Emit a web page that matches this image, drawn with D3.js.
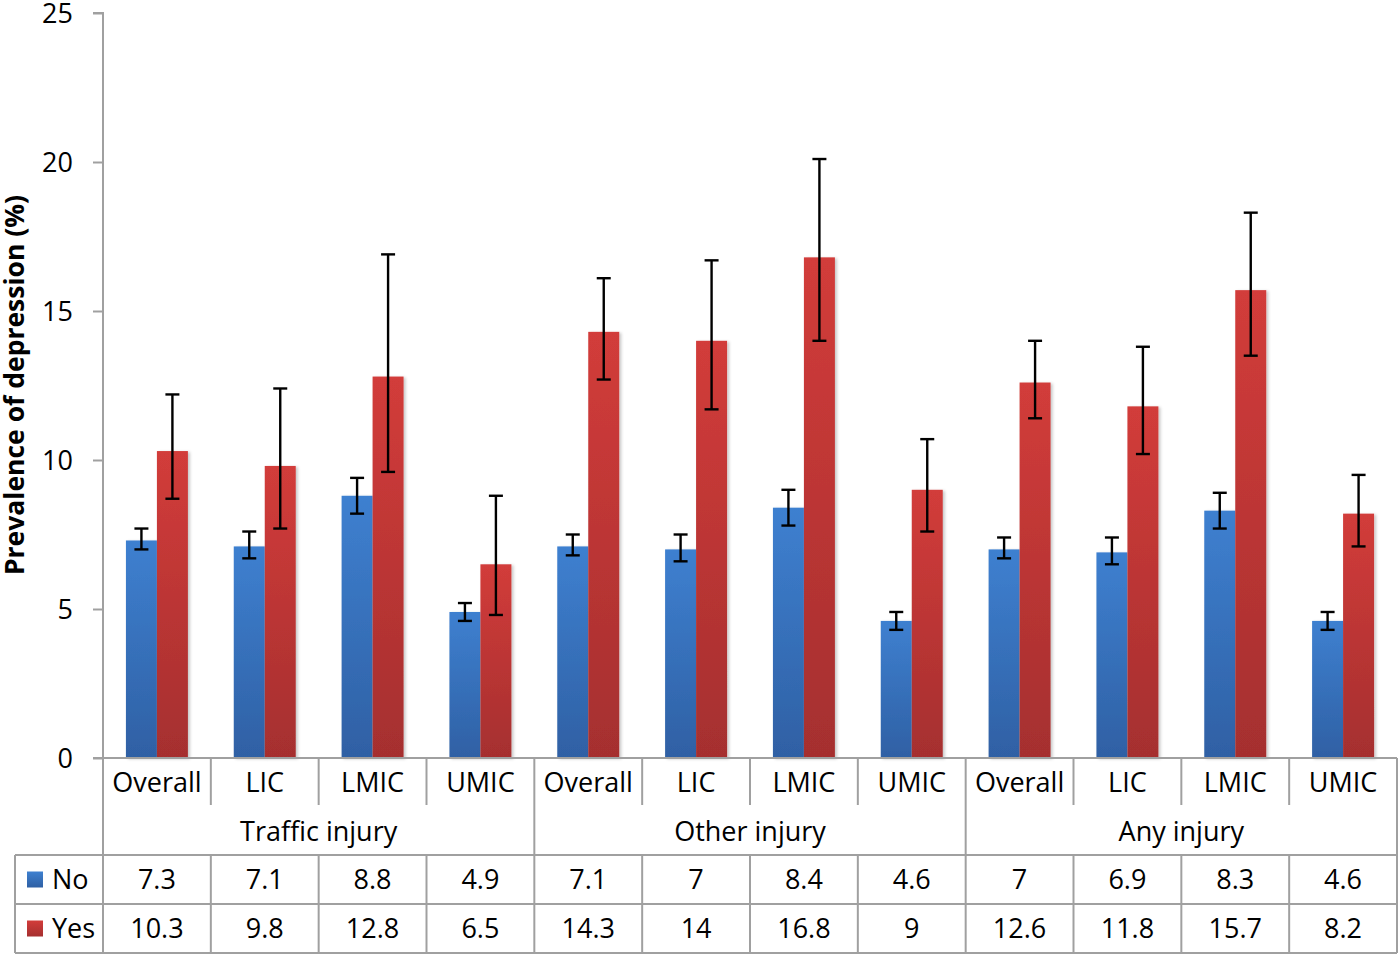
<!DOCTYPE html>
<html>
<head>
<meta charset="utf-8">
<script src="https://cdn.jsdelivr.net/npm/d3@7"></script>
<style>
  html, body { margin: 0; padding: 0; background: #fff; }
  svg { display: block; }
  text { font-family: "Open Sans", "DejaVu Sans", sans-serif; fill: #000; }
</style>
</head>
<body>
<svg id="chart" width="1400" height="957"></svg>
<script>
// ---------- data ----------
const subCategories = ["Overall", "LIC", "LMIC", "UMIC", "Overall", "LIC", "LMIC", "UMIC", "Overall", "LIC", "LMIC", "UMIC"];
const groups = ["Traffic injury", "Other injury", "Any injury"];
const seriesNames = ["No", "Yes"];
const noValues  = [7.3, 7.1, 8.8, 4.9, 7.1, 7, 8.4, 4.6, 7, 6.9, 8.3, 4.6];
const yesValues = [10.3, 9.8, 12.8, 6.5, 14.3, 14, 16.8, 9, 12.6, 11.8, 15.7, 8.2];
const noLow   = [7.0, 6.7, 8.2, 4.6, 6.8, 6.6, 7.8, 4.3, 6.7, 6.5, 7.7, 4.3];
const noHigh  = [7.7, 7.6, 9.4, 5.2, 7.5, 7.5, 9.0, 4.9, 7.4, 7.4, 8.9, 4.9];
const yesLow  = [8.7, 7.7, 9.6, 4.8, 12.7, 11.7, 14.0, 7.6, 11.4, 10.2, 13.5, 7.1];
const yesHigh = [12.2, 12.4, 16.9, 8.8, 16.1, 16.7, 20.1, 10.7, 14.0, 13.8, 18.3, 9.5];
const yTicks = [0, 5, 10, 15, 20, 25];
const yTitle = "Prevalence of depression (%)";

(function draw() {
// ---------- layout ----------
const svg = d3.select("#chart");
const pLeft = 103, pRight = 1397, pTop = 13, pBottom = 758;
const rowSub = 807, rowGroup = 855, rowNo = 904, rowYes = 953, tableLeft = 15;
const grid = "#a0a0a0";

const y = d3.scaleLinear().domain([0, 25]).range([pBottom, pTop]);
const x = d3.scaleBand().domain(d3.range(subCategories.length)).range([pLeft, pRight]).paddingInner(0).paddingOuter(0);
const xs = d3.scaleBand().domain(seriesNames).range([0, x.bandwidth()]).paddingInner(0).paddingOuter(0.74);

// gradients
const defs = svg.append("defs");
const gradBlue = defs.append("linearGradient").attr("id", "gBlue").attr("x1", 0).attr("y1", 0).attr("x2", 0).attr("y2", 1);
gradBlue.append("stop").attr("offset", "0%").attr("stop-color", "#3e80d0");
gradBlue.append("stop").attr("offset", "100%").attr("stop-color", "#2f60a4");
const gradRed = defs.append("linearGradient").attr("id", "gRed").attr("x1", 0).attr("y1", 0).attr("x2", 0).attr("y2", 1);
gradRed.append("stop").attr("offset", "0%").attr("stop-color", "#d23c3a");
gradRed.append("stop").attr("offset", "100%").attr("stop-color", "#a52f2f");
const shadow = defs.append("filter").attr("id", "shadow").attr("x", "-20%").attr("y", "-5%").attr("width", "140%").attr("height", "110%");
shadow.append("feDropShadow").attr("dx", 2).attr("dy", 1).attr("stdDeviation", 1.5).attr("flood-color", "#000").attr("flood-opacity", 0.22);

const fills = { No: "url(#gBlue)", Yes: "url(#gRed)" };

// ---------- y axis ----------
const yAxis = d3.axisLeft(y).tickValues(yTicks).tickSize(10).tickPadding(20).tickFormat(d3.format("d"));
const gy = svg.append("g").attr("transform", `translate(${pLeft},0)`).call(yAxis);
gy.select(".domain").attr("stroke", grid).attr("stroke-width", 2).attr("d", `M-10,${pTop}H0V${pBottom}`);
gy.selectAll(".tick line").attr("stroke", grid).attr("stroke-width", 2);
gy.selectAll(".tick text").style("font-size", "27px").style("font-family", '"Open Sans", sans-serif').attr("fill", "#000").attr("dy", "0.36em");

svg.append("text")
  .attr("transform", `translate(24,${(197 + 573) / 2}) rotate(-90)`)
  .attr("text-anchor", "middle")
  .style("font-size", "26.5px").style("font-weight", "bold")
  .text(yTitle);

// ---------- bars ----------
const barData = [];
subCategories.forEach((c, i) => {
  barData.push({ i, s: "No", v: noValues[i], lo: noLow[i], hi: noHigh[i] });
  barData.push({ i, s: "Yes", v: yesValues[i], lo: yesLow[i], hi: yesHigh[i] });
});

svg.append("g").selectAll("rect").data(barData).join("rect")
  .attr("x", d => x(d.i) + xs(d.s))
  .attr("width", xs.bandwidth())
  .attr("y", d => y(d.v))
  .attr("height", d => y(0) - y(d.v))
  .attr("fill", d => fills[d.s])
  .attr("filter", "url(#shadow)");

// error bars
const eg = svg.append("g").attr("stroke", "#000").attr("stroke-width", 2.4);
const capHalf = 7;
barData.forEach(d => {
  const cx = x(d.i) + xs(d.s) + xs.bandwidth() / 2;
  eg.append("line").attr("x1", cx).attr("x2", cx).attr("y1", y(d.hi)).attr("y2", y(d.lo));
  eg.append("line").attr("x1", cx - capHalf).attr("x2", cx + capHalf).attr("y1", y(d.hi)).attr("y2", y(d.hi));
  eg.append("line").attr("x1", cx - capHalf).attr("x2", cx + capHalf).attr("y1", y(d.lo)).attr("y2", y(d.lo));
});

// ---------- x axis / data table ----------
const tg = svg.append("g").attr("stroke", grid).attr("stroke-width", 2).attr("fill", "none");
tg.append("line").attr("x1", pLeft - 10).attr("x2", pRight).attr("y1", pBottom).attr("y2", pBottom);
[rowGroup, rowNo, rowYes].forEach(yy => tg.append("line").attr("x1", tableLeft).attr("x2", pRight).attr("y1", yy).attr("y2", yy));
tg.append("line").attr("x1", tableLeft).attr("x2", tableLeft).attr("y1", rowGroup).attr("y2", rowYes);
d3.range(subCategories.length + 1).forEach(k => {
  const xx = k === subCategories.length ? pRight : x(k);
  if (k % 4 === 0) {
    tg.append("line").attr("x1", xx).attr("x2", xx).attr("y1", pBottom).attr("y2", rowYes);
  } else {
    tg.append("line").attr("x1", xx).attr("x2", xx).attr("y1", pBottom).attr("y2", rowSub - 2);
    tg.append("line").attr("x1", xx).attr("x2", xx).attr("y1", rowGroup).attr("y2", rowYes);
  }
});

const fs = "27px";
svg.append("g").selectAll("text").data(subCategories).join("text")
  .attr("x", (d, i) => x(i) + x.bandwidth() / 2)
  .attr("y", (pBottom + rowSub) / 2)
  .attr("dy", "0.36em")
  .attr("text-anchor", "middle").style("font-size", fs)
  .text(d => d);
svg.append("g").selectAll("text").data(groups).join("text")
  .attr("x", (d, g) => (x(g * 4) + (g * 4 + 4 === subCategories.length ? pRight : x(g * 4 + 4))) / 2)
  .attr("y", (rowSub + rowGroup) / 2)
  .attr("dy", "0.36em")
  .attr("text-anchor", "middle").style("font-size", fs)
  .text(d => d);

const rows = [{ s: "No", vals: noValues, y0: rowGroup, y1: rowNo }, { s: "Yes", vals: yesValues, y0: rowNo, y1: rowYes }];
rows.forEach(r => {
  const cy = (r.y0 + r.y1) / 2;
  svg.append("rect").attr("x", 27).attr("y", cy - 8).attr("width", 16).attr("height", 16).attr("fill", fills[r.s]);
  svg.append("text").attr("x", 52).attr("y", cy).attr("dy", "0.36em").style("font-size", fs).text(r.s);
  svg.append("g").selectAll("text").data(r.vals).join("text")
    .attr("x", (d, i) => x(i) + x.bandwidth() / 2)
    .attr("y", cy).attr("dy", "0.36em")
    .attr("text-anchor", "middle").style("font-size", fs)
    .text(d => String(d));
});
})();
</script>
</body>
</html>
